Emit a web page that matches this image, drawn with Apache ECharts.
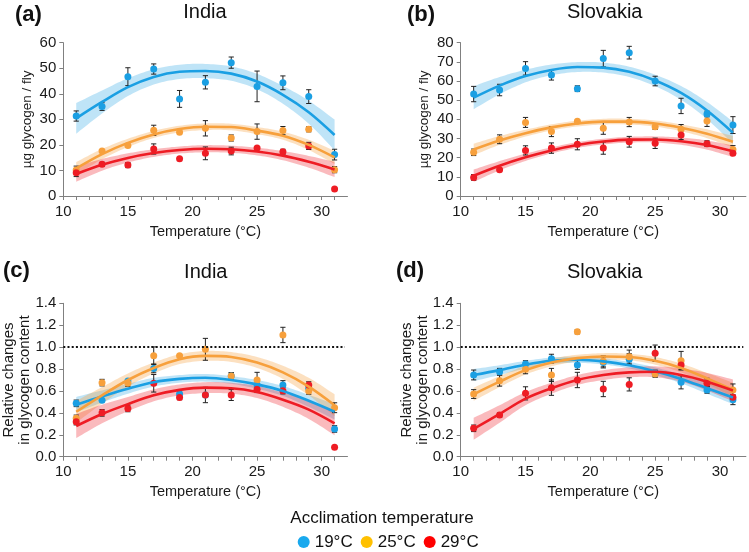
<!DOCTYPE html>
<html><head><meta charset="utf-8">
<script src="https://cdn.jsdelivr.net/npm/echarts@6/dist/echarts.min.js"></script>
<style>html,body{margin:0;padding:0;background:#fff}#c{width:749px;height:552px}</style>
</head><body><div id="c"></div>
<script>
// ---------- data ----------
const xTemps = [11, 13, 15, 17, 19, 21, 23, 25, 27, 29, 31];
const xTickLabels = [10, 15, 20, 25, 30];
const groupNames = ['19°C', '25°C', '29°C'];

// (a) India, µg glycogen / fly
const a19 = [31.3, 35.0, 46.7, 49.7, 38.0, 44.5, 52.2, 42.9, 44.3, 38.9, 16.2];
const a19e = [2.0, 1.5, 3.5, 2.0, 3.3, 2.6, 2.2, 6.0, 2.7, 2.7, 2.1];
const a19fit = [30.4, 36.8, 42.6, 46.6, 48.6, 48.9, 47.9, 44.8, 39.6, 32.8, 23.9];
const a19ci = [6.0, 4.5, 3.5, 3.0, 2.8, 2.8, 2.8, 3.0, 3.5, 4.5, 6.0];
const a25 = [10.2, 17.6, 19.8, 25.7, 25.0, 26.5, 22.7, 25.2, 25.6, 26.1, 10.3];
const a25e = [1.5, 0, 0, 2.0, 0, 3.0, 1.2, 3.0, 1.6, 1.0, 1.2];
const a25fit = [10.8, 16.4, 20.8, 24.1, 26.2, 27.1, 27.0, 25.6, 23.6, 20.0, 15.1];
const a25ci = [2.5, 2.0, 1.6, 1.4, 1.3, 1.3, 1.3, 1.4, 1.6, 2.0, 2.6];
const a29 = [9.1, 12.4, 12.1, 18.4, 14.6, 16.7, 17.6, 18.8, 17.3, 19.6, 2.7];
const a29e = [1.5, 0.8, 1.0, 2.0, 0, 2.5, 1.5, 0, 1.0, 1.4, 0];
const a29fit = [8.6, 12.2, 14.9, 16.8, 18.0, 18.5, 18.3, 17.4, 15.8, 13.4, 10.4];
const a29ci = [3.0, 2.3, 1.8, 1.5, 1.4, 1.4, 1.4, 1.5, 1.8, 2.3, 3.0];

// (b) Slovakia, µg glycogen / fly
const b19 = [53.2, 55.3, 66.6, 63.1, 56.0, 71.7, 74.8, 60.0, 47.0, 42.8, 37.0];
const b19e = [4.0, 3.0, 3.5, 2.6, 1.5, 4.3, 3.3, 2.5, 4.0, 1.5, 4.4];
const b19fit = [51.3, 57.6, 62.6, 65.8, 67.3, 67.0, 64.8, 60.3, 53.8, 44.6, 33.0];
const b19ci = [6.0, 4.5, 3.3, 2.8, 2.6, 2.6, 2.7, 3.0, 3.6, 4.5, 5.8];
const b25 = [22.8, 29.6, 38.4, 33.6, 39.0, 35.3, 38.6, 36.2, 34.8, 39.1, 24.3];
const b25e = [1.7, 2.3, 2.6, 2.6, 0, 3.1, 2.4, 1.5, 2.5, 2.8, 2.0];
const b25fit = [24.3, 29.0, 32.8, 35.8, 37.8, 38.8, 38.8, 37.8, 35.6, 32.5, 28.3];
const b25ci = [3.0, 2.3, 1.8, 1.6, 1.5, 1.5, 1.5, 1.6, 1.8, 2.3, 3.0];
const b29 = [9.7, 13.7, 23.8, 25.0, 27.0, 25.0, 28.3, 27.5, 31.8, 27.3, 22.3];
const b29e = [1.5, 0, 2.4, 2.7, 2.9, 3.2, 2.8, 2.7, 2.3, 1.5, 0];
const b29fit = [10.6, 15.8, 20.2, 23.8, 26.6, 28.4, 29.4, 29.5, 28.6, 26.6, 23.3];
const b29ci = [3.2, 2.4, 1.9, 1.6, 1.5, 1.5, 1.5, 1.6, 1.9, 2.4, 3.0];

// (c) India, relative changes
const c19 = [0.487, 0.515, 0.69, 0.806, 0.572, 0.563, 0.736, 0.654, 0.654, 0.625, 0.253];
const c19e = [0.03, 0, 0, 0.04, 0.02, 0, 0.03, 0.04, 0.04, 0, 0.03];
const c19fit = [0.475, 0.55, 0.62, 0.68, 0.71, 0.72, 0.70, 0.66, 0.60, 0.51, 0.41];
const c19ci = [0.07, 0.055, 0.045, 0.04, 0.035, 0.035, 0.035, 0.04, 0.045, 0.055, 0.07];
const c25 = [0.35, 0.676, 0.67, 0.922, 0.922, 0.98, 0.736, 0.70, 1.111, 0.60, 0.447];
const c25e = [0.03, 0.03, 0.03, 0.08, 0, 0.1, 0.03, 0.07, 0.07, 0.03, 0.045];
const c25fit = [0.41, 0.56, 0.70, 0.81, 0.89, 0.92, 0.91, 0.86, 0.77, 0.64, 0.47];
const c25ci = [0.1, 0.075, 0.06, 0.05, 0.045, 0.045, 0.045, 0.05, 0.06, 0.08, 0.1];
const c29 = [0.32, 0.40, 0.44, 0.67, 0.54, 0.563, 0.563, 0.615, 0.603, 0.654, 0.086];
const c29e = [0.03, 0.03, 0.03, 0.08, 0.02, 0.07, 0.05, 0.03, 0.03, 0.03, 0];
const c29fit = [0.28, 0.39, 0.48, 0.56, 0.61, 0.63, 0.625, 0.59, 0.52, 0.43, 0.305];
const c29ci = [0.11, 0.085, 0.065, 0.055, 0.05, 0.05, 0.05, 0.055, 0.065, 0.085, 0.11];

// (d) Slovakia, relative changes
const d19 = [0.746, 0.776, 0.846, 0.895, 0.837, 0.86, 0.89, 0.76, 0.679, 0.609, 0.52];
const d19e = [0.045, 0.03, 0.03, 0.04, 0.04, 0.05, 0.05, 0.03, 0.06, 0.03, 0.045];
const d19fit = [0.745, 0.79, 0.84, 0.875, 0.885, 0.87, 0.835, 0.78, 0.71, 0.625, 0.54];
const d19ci = [0.055, 0.045, 0.035, 0.03, 0.028, 0.028, 0.03, 0.035, 0.04, 0.05, 0.06];
const d25 = [0.572, 0.694, 0.797, 0.746, 1.141, 0.87, 0.913, 0.755, 0.876, 0.676, 0.609];
const d25e = [0.04, 0.05, 0.04, 0.06, 0.02, 0.05, 0.06, 0.03, 0.085, 0.04, 0.055];
const d25fit = [0.57, 0.685, 0.79, 0.86, 0.90, 0.915, 0.91, 0.875, 0.81, 0.715, 0.61];
const d25ci = [0.06, 0.05, 0.04, 0.035, 0.03, 0.03, 0.03, 0.035, 0.04, 0.05, 0.065];
const d29 = [0.259, 0.38, 0.578, 0.63, 0.70, 0.618, 0.66, 0.944, 0.837, 0.67, 0.542];
const d29e = [0.03, 0.02, 0.06, 0.07, 0.07, 0.07, 0.06, 0.075, 0.04, 0.03, 0.02];
const d29fit = [0.255, 0.39, 0.53, 0.625, 0.70, 0.745, 0.77, 0.775, 0.745, 0.685, 0.605];
const d29ci = [0.1, 0.08, 0.06, 0.05, 0.045, 0.045, 0.045, 0.05, 0.06, 0.08, 0.1];

// ---------- styling ----------
const FONT = '"Liberation Sans", Arial, Helvetica, sans-serif';
const lineColors = ['#1a9fe3', '#f7a03c', '#ee1c24'];
const bandColors = ['rgba(26,159,227,0.28)', 'rgba(247,160,60,0.32)', 'rgba(238,28,36,0.30)'];
const legendColors = ['#19a9ee', '#ffc000', '#ff0000'];
const AXIS = '#808080', TXT = '#1a1a1a';

const panels = [
  { sets: [[a19, a19e, a19fit, a19ci], [a25, a25e, a25fit, a25ci], [a29, a29e, a29fit, a29ci]] },
  { sets: [[b19, b19e, b19fit, b19ci], [b25, b25e, b25fit, b25ci], [b29, b29e, b29fit, b29ci]] },
  { sets: [[c19, c19e, c19fit, c19ci], [c25, c25e, c25fit, c25ci], [c29, c29e, c29fit, c29ci]] },
  { sets: [[d19, d19e, d19fit, d19ci], [d25, d25e, d25fit, d25ci], [d29, d29e, d29fit, d29ci]] }
];

const grids = [
  { left: 63.3, top: 42.7, width: 284.2, height: 153.3 },
  { left: 460.7, top: 42.7, width: 285.2, height: 153.3 },
  { left: 63.3, top: 303.3, width: 284.2, height: 153.4 },
  { left: 460.7, top: 303.3, width: 285.2, height: 153.4 }
].map(g => Object.assign({ containLabel: false, outerBoundsMode: 'none' }, g));

const yConf = [
  { max: 60, interval: 10, name: 'µg glycogen / fly', fmt: v => String(v), gap: 29, fs: 13.5, lh: 15 },
  { max: 80, interval: 10, name: 'µg glycogen / fly', fmt: v => String(v), gap: 29, fs: 13.5, lh: 15 },
  { max: 1.4, interval: 0.2, name: 'Relative changes\nin glycogen content', fmt: v => v.toFixed(1), gap: 30, fs: 15, lh: 16 },
  { max: 1.4, interval: 0.2, name: 'Relative changes\nin glycogen content', fmt: v => v.toFixed(1), gap: 30, fs: 15, lh: 16 }
];

function catmull(pts, n) {
  const out = [];
  for (let i = 0; i < pts.length - 1; i++) {
    const p0 = pts[Math.max(i - 1, 0)], p1 = pts[i], p2 = pts[i + 1], p3 = pts[Math.min(i + 2, pts.length - 1)];
    for (let k = 0; k < n; k++) {
      const t = k / n, t2 = t * t, t3 = t2 * t;
      const f = j => 0.5 * (2 * p1[j] + (-p0[j] + p2[j]) * t + (2 * p0[j] - 5 * p1[j] + 4 * p2[j] - p3[j]) * t2 + (-p0[j] + 3 * p1[j] - 3 * p2[j] + p3[j]) * t3);
      out.push([f(0), f(1)]);
    }
  }
  out.push(pts[pts.length - 1]);
  return out;
}

const xAxes = [], yAxes = [], series = [];
panels.forEach((p, gi) => {
  xAxes.push({
    type: 'value', gridIndex: gi, min: 10, max: 32, interval: 1,
    axisLine: { show: true, lineStyle: { color: AXIS, width: 1 } },
    axisTick: { show: true, length: 4, lineStyle: { color: AXIS, width: 1 } },
    splitLine: { show: false },
    axisLabel: {
      margin: 8, fontSize: 15, color: TXT, fontFamily: FONT, showMaxLabel: false,
      formatter: v => (xTickLabels.indexOf(v) >= 0 ? String(v) : '')
    },
    name: 'Temperature (°C)', nameLocation: 'middle', nameGap: 28, nameMoveOverlap: false,
    nameTextStyle: { fontSize: 14.5, color: TXT, fontFamily: FONT }
  });
  const yc = yConf[gi];
  yAxes.push({
    type: 'value', gridIndex: gi, min: 0, max: yc.max, interval: yc.interval,
    axisLine: { show: true, lineStyle: { color: AXIS, width: 1 } },
    axisTick: { show: true, length: 4, lineStyle: { color: AXIS, width: 1 } },
    splitLine: { show: false },
    axisLabel: { margin: 7, fontSize: 15, color: TXT, fontFamily: FONT, formatter: yc.fmt },
    name: yc.name, nameLocation: 'middle', nameGap: yc.gap, nameMoveOverlap: false,
    nameTextStyle: { fontSize: yc.fs, lineHeight: yc.lh, color: TXT, fontFamily: FONT, align: 'center' }
  });

  p.sets.forEach((s, k) => {
    const [mean, err, fit, ci] = s;
    // confidence band
    const bandData = xTemps.map((x, i) => [x, fit[i] - ci[i], fit[i] + ci[i]]);
    series.push({
      type: 'custom', xAxisIndex: gi, yAxisIndex: gi, silent: true, z: 1,
      encode: { x: 0, y: [1, 2] }, data: bandData,
      renderItem: function (params, api) {
        if (params.dataIndex !== 0) return null;
        const up = bandData.map(d => api.coord([d[0], d[2]]));
        const lo = bandData.map(d => api.coord([d[0], d[1]]));
        const pts = catmull(up, 10).concat(catmull(lo, 10).reverse());
        return { type: 'polygon', shape: { points: pts }, style: { fill: bandColors[k] } };
      }
    });
    // error bars
    const ebData = xTemps.map((x, i) => [x, mean[i] - err[i], mean[i] + err[i]]);
    series.push({
      type: 'custom', xAxisIndex: gi, yAxisIndex: gi, silent: true, z: 2,
      encode: { x: 0, y: [1, 2] }, data: ebData,
      renderItem: function (params, api) {
        const x = api.value(0), lo = api.value(1), hi = api.value(2);
        if (!(hi - lo > 0)) return null;
        const a = api.coord([x, hi]), b = api.coord([x, lo]);
        const w = 2.6, st = { stroke: '#222', lineWidth: 1 };
        return { type: 'group', children: [
          { type: 'line', shape: { x1: a[0], y1: a[1], x2: b[0], y2: b[1] }, style: st },
          { type: 'line', shape: { x1: a[0] - w, y1: a[1], x2: a[0] + w, y2: a[1] }, style: st },
          { type: 'line', shape: { x1: b[0] - w, y1: b[1], x2: b[0] + w, y2: b[1] }, style: st }
        ] };
      }
    });
    // points
    series.push({
      type: 'scatter', name: groupNames[k], xAxisIndex: gi, yAxisIndex: gi, z: 3,
      symbol: 'circle', symbolSize: 7, itemStyle: { color: lineColors[k], opacity: 1 },
      data: xTemps.map((x, i) => [x, mean[i]])
    });
    // fitted curve
    const ls = {
      type: 'line', xAxisIndex: gi, yAxisIndex: gi, z: 4, silent: true,
      showSymbol: false, symbol: 'none', smooth: 0.33,
      lineStyle: { color: lineColors[k], width: 2.6 },
      data: xTemps.map((x, i) => [x, fit[i]])
    };
    if (gi >= 2 && k === 0) {
      ls.markLine = {
        silent: true, symbol: 'none', label: { show: false },
        lineStyle: { type: [2, 2.2], color: '#111', width: 1.8 },
        data: [[{ coord: [10, 1] }, { coord: [31.8, 1] }]]
      };
    }
    series.push(ls);
  });
});

function ttl(text, x, y, opt) {
  return Object.assign({
    text, left: x, top: y, padding: 0, textAlign: 'center', textVerticalAlign: 'middle',
    textStyle: { fontSize: 20, fontWeight: 'normal', color: '#111', fontFamily: FONT }
  }, opt || {});
}
const boldT = { textAlign: 'left', textStyle: { fontSize: 22, fontWeight: 'bold', color: '#111', fontFamily: FONT } };

const option = {
  animation: false,
  backgroundColor: '#fff',
  title: [
    ttl('(a)', 15, 15, boldT), ttl('India', 205, 12),
    ttl('(b)', 407, 15, boldT), ttl('Slovakia', 604.7, 12),
    ttl('(c)', 3, 271, boldT), ttl('India', 205.8, 272),
    ttl('(d)', 396, 271, boldT), ttl('Slovakia', 604.7, 272),
    ttl('Acclimation temperature', 382, 518, { textStyle: { fontSize: 17, fontWeight: 'normal', color: '#111', fontFamily: FONT } })
  ],
  legend: {
    left: 297.7, top: 533.5, padding: 0, itemGap: 8, itemWidth: 12, itemHeight: 12,
    selectedMode: false,
    textStyle: { fontSize: 17, color: '#111', fontFamily: FONT },
    data: groupNames.map((n, i) => ({ name: n, icon: 'circle', itemStyle: { color: legendColors[i] } }))
  },
  grid: grids,
  xAxis: xAxes,
  yAxis: yAxes,
  series
};

const chart = echarts.init(document.getElementById('c'), null, { renderer: 'canvas' });
chart.setOption(option);
</script>
</body></html>
